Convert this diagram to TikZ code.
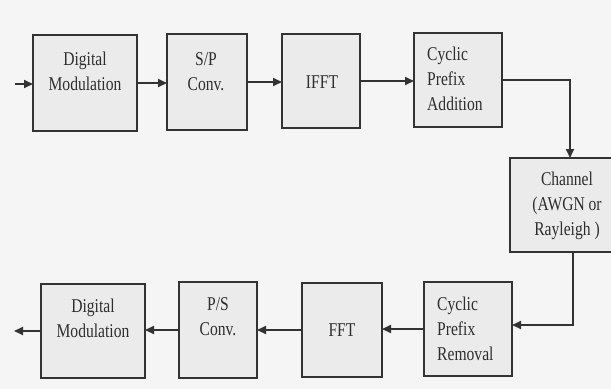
\documentclass[tikz,border=0pt]{standalone}
\usepackage{fontspec}
\setmainfont{Liberation Serif}[FakeStretch=0.8]
\usetikzlibrary{arrows.meta}
\definecolor{linec}{HTML}{333333}
\definecolor{boxc}{HTML}{EBEBEB}
\definecolor{bgc}{HTML}{F5F5F5}
\definecolor{textc}{HTML}{2E2E2E}
\begin{document}
\begin{tikzpicture}[x=1pt,y=-1pt,
  blk/.style={draw=linec, line width=1.7pt, fill=boxc, inner sep=0pt, outer sep=0pt},
  lbl/.style={font=\fontsize{19.5}{25}\selectfont, text=textc, inner sep=0pt, align=center},
  conn/.style={draw=linec, line width=1.8pt, -{Triangle[length=9pt,width=8pt]}}]
\fill[bgc] (0,0) rectangle (611,389);
\useasboundingbox (0,0) rectangle (611,389);
% boxes
\node[blk, minimum width=104pt, minimum height=96pt] (dmA) at (85,83) {};
\node[blk, minimum width=80pt, minimum height=96pt] (sp) at (207,82) {};
\node[blk, minimum width=78pt, minimum height=94pt] (ifft) at (321,81) {};
\node[blk, minimum width=88pt, minimum height=94pt] (cpa) at (458,80) {};
\node[blk, minimum width=102pt, minimum height=94pt] (ch) at (561,205) {};
\node[blk, minimum width=88pt, minimum height=94pt] (cpr) at (468,329) {};
\node[blk, minimum width=80pt, minimum height=94pt] (fft) at (342,330) {};
\node[blk, minimum width=78pt, minimum height=96pt] (ps) at (218,330) {};
\node[blk, minimum width=104pt, minimum height=94pt] (dmB) at (93,331) {};
% labels
\node[lbl] (tdmA) at (85,71) {Digital\\Modulation};
\node[lbl] (tsp) at (206,72) {S/P\\Conv.};
\node[lbl] (tifft) at (322,82) {IFFT};
\node[lbl, align=left, anchor=west] (tcpa) at (427,79) {Cyclic\\Prefix\\Addition};
\node[lbl] (tch) at (567,206) {Channel\\(AWGN or\\Rayleigh )};
\node[lbl, align=left, anchor=west] (tcpr) at (437,329) {Cyclic\\Prefix\\Removal};
\node[lbl] (tfft) at (342,330) {FFT};
\node[lbl] (tps) at (218,317) {P/S\\Conv.};
\node[lbl] (tdmB) at (93,318) {Digital\\Modulation};
% connectors
\coordinate (inp) at (15,84);
\coordinate (outp) at (14,330);
\draw[conn] (inp) -- (inp -| dmA.west);
\draw[conn] (dmA.east) -- (dmA.east -| sp.west);
\draw[conn] (sp.east) -- (sp.east -| ifft.west);
\draw[conn] (ifft.east) -- (ifft.east -| cpa.west);
\draw[conn] (cpa.east) -| ([xshift=9pt]ch.north);
\draw[conn] ([xshift=12pt]ch.south) |- ([yshift=4pt]cpr.east);
\draw[conn] (cpr.west) -- (cpr.west -| fft.east);
\draw[conn] (fft.west) -- (fft.west -| ps.east);
\draw[conn] (ps.west) -- (ps.west -| dmB.east);
\draw[conn] (dmB.west) -- (dmB.west -| outp);
\end{tikzpicture}
\end{document}
